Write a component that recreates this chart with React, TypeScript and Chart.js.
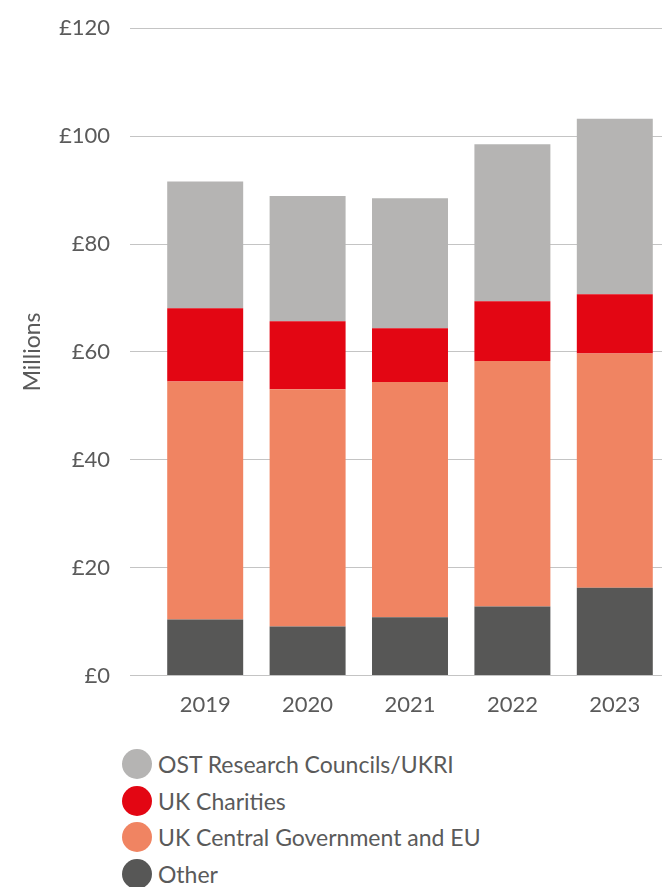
import React, { useEffect, useRef } from "react";
import { Chart, registerables } from "chart.js";

Chart.register(...registerables);

const years = ["2019", "2020", "2021", "2022", "2023"];
const other = [10.4, 9.1, 10.8, 12.8, 16.3];
const centralGovEU = [44.1, 44.0, 43.6, 45.5, 43.4];
const charities = [13.6, 12.6, 10.0, 11.1, 11.0];
const ostUkri = [23.5, 23.2, 24.1, 29.1, 32.5];
const yTicks = [0, 20, 40, 60, 80, 100, 120];

const seriesNames = ["Other", "UK Central Government and EU", "UK Charities", "OST Research Councils/UKRI"];
const seriesColors = ["#575756", "#f08462", "#e30613", "#b5b4b3"];
const seriesValues = [other, centralGovEU, charities, ostUkri];

const FONT = "Lato, 'Open Sans', sans-serif";
const TEXT = "#5a5a5a";

export default function App() {
  const ref = useRef<HTMLCanvasElement | null>(null);

  useEffect(() => {
    if (!ref.current) return;
    const chart = new Chart(ref.current, {
      type: "bar",
      data: {
        labels: years,
        datasets: seriesNames.map((name, i) => ({
          label: name,
          data: seriesValues[i],
          backgroundColor: seriesColors[i],
          borderWidth: 0,
          barPercentage: 0.742,
          categoryPercentage: 1,
        })),
      },
      options: {
        animation: false,
        responsive: false,
        maintainAspectRatio: false,
        layout: { padding: { top: 23, right: 0, bottom: 0, left: 0 } },
        plugins: { legend: { display: false }, tooltip: { enabled: false } },
        scales: {
          x: {
            stacked: true,
            grid: { display: false },
            border: { display: false },
            ticks: { color: TEXT, font: { family: FONT, size: 22 }, padding: 8 },
          },
          y: {
            stacked: true,
            min: 0,
            max: 120,
            afterBuildTicks: (axis: any) => {
              axis.ticks = yTicks.map((v) => ({ value: v }));
            },
            afterFit: (axis: any) => {
              axis.width = 154;
            },
            border: { display: false },
            grid: { color: "#c4c4c4", lineWidth: 1, drawTicks: true, tickLength: 24, tickColor: "#c4c4c4" },
            ticks: {
              color: TEXT,
              font: { family: FONT, size: 22 },
              padding: 20,
              callback: (v: any) => "£" + v,
            },
            title: {
              display: true,
              text: "Millions",
              color: TEXT,
              font: { family: FONT, size: 23 },
              padding: { top: 19, bottom: 0 },
            },
          },
        },
      },
    });
    return () => chart.destroy();
  }, []);

  const legendOrder = [3, 2, 1, 0];

  return (
    <div style={{ position: "absolute", left: 0, top: 0, width: 662, height: 887, overflow: "hidden", background: "#fff" }}>
      <canvas ref={ref} width={666} height={731} style={{ position: "absolute", left: 0, top: -5, width: 666, height: 731 }} />
      {legendOrder.map((idx, k) => (
        <div
          key={idx}
          style={{
            position: "absolute",
            left: 122,
            top: 764 + k * 36.5 - 15,
            height: 30,
            display: "flex",
            alignItems: "center",
            fontFamily: FONT,
            fontSize: 23,
            color: TEXT,
            whiteSpace: "nowrap",
          }}
        >
          <span style={{ width: 30, height: 30, borderRadius: 15, background: seriesColors[idx], display: "inline-block", marginRight: 6 }} />
          <span>{seriesNames[idx]}</span>
        </div>
      ))}
    </div>
  );
}
